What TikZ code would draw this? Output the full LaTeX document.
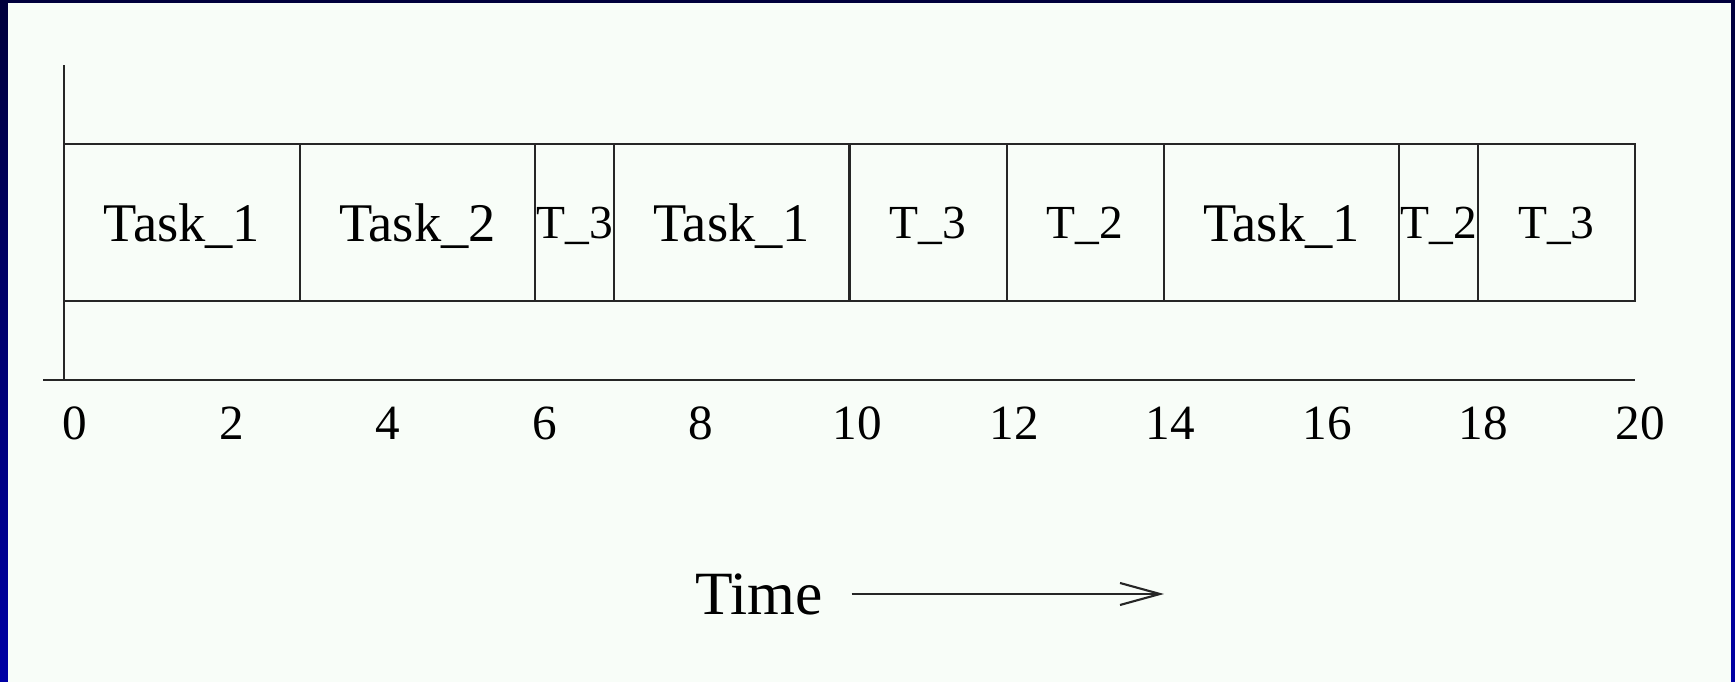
\documentclass[tikz,border=0pt]{standalone}
\usepackage{fontspec}
\setmainfont{Liberation Serif}
\usetikzlibrary{arrows.meta,positioning}
\definecolor{slidenavy}{RGB}{0,0,60}
\definecolor{slideblue}{RGB}{0,0,165}
\definecolor{paper}{RGB}{248,253,248}

\begin{document}
\begin{tikzpicture}[
    slot/.style={rectangle, draw=black!85, line width=0.6pt, inner sep=0pt, outer sep=0pt, minimum height=1.57cm, minimum width=#1*0.7855cm, text depth=0pt, font=\fontsize{15.5}{18}\selectfont},
    tslot/.style={slot=#1, font=\fontsize{13.5}{16}\selectfont},
    axisline/.style={draw=black!85, line width=0.6pt},
    ticklbl/.style={font=\fontsize{14}{16}\selectfont},
    arr/.style={-{Straight Barb[length=4mm,width=2.2mm]}, line width=0.6pt, black!85},
]
\shade[top color=slidenavy, bottom color=slideblue] (-0.64,-3.02) rectangle (16.71,3.80);
\fill[paper] (-0.56,-3.02) rectangle (16.67,3.77);
\useasboundingbox (-0.64,-3.02) rectangle (16.71,3.80);

\coordinate (origin) at (0,0);
\coordinate (ytop) at (0,3.15);
\coordinate (xleft) at (-0.21,0);
\coordinate (xright) at (15.71,0);
\draw[axisline] (origin) -- (ytop);
\draw[axisline] (xleft) -- (xright);

\node[slot=3, anchor=west] (t1a) at (0,1.575) {Task\_1};
\node[slot=3, right=0pt of t1a] (t2a) {Task\_2};
\node[tslot=1, right=0pt of t2a] (t3a) {T\_3};
\node[slot=3, right=0pt of t3a] (t1b) {Task\_1};
\node[tslot=2, right=0pt of t1b] (t3b) {T\_3};
\node[tslot=2, right=0pt of t3b] (t2b) {T\_2};
\node[slot=3, right=0pt of t2b] (t1c) {Task\_1};
\node[tslot=1, right=0pt of t1c] (t2c) {T\_2};
\node[tslot=2, right=0pt of t2c] (t3c) {T\_3};

\foreach \v in {0,2,...,20}
  \node[ticklbl] (lbl\v) at (0.11+0.7825*\v,-0.43) {\v};

\node[font=\fontsize{17.5}{20}\selectfont, inner sep=0pt] (time) at (6.95,-2.14) {Time};
\coordinate (tend) at (11.0,-2.14);
\draw[arr, shorten <=0.28cm] (time.east) -- (tend);
\end{tikzpicture}
\end{document}
